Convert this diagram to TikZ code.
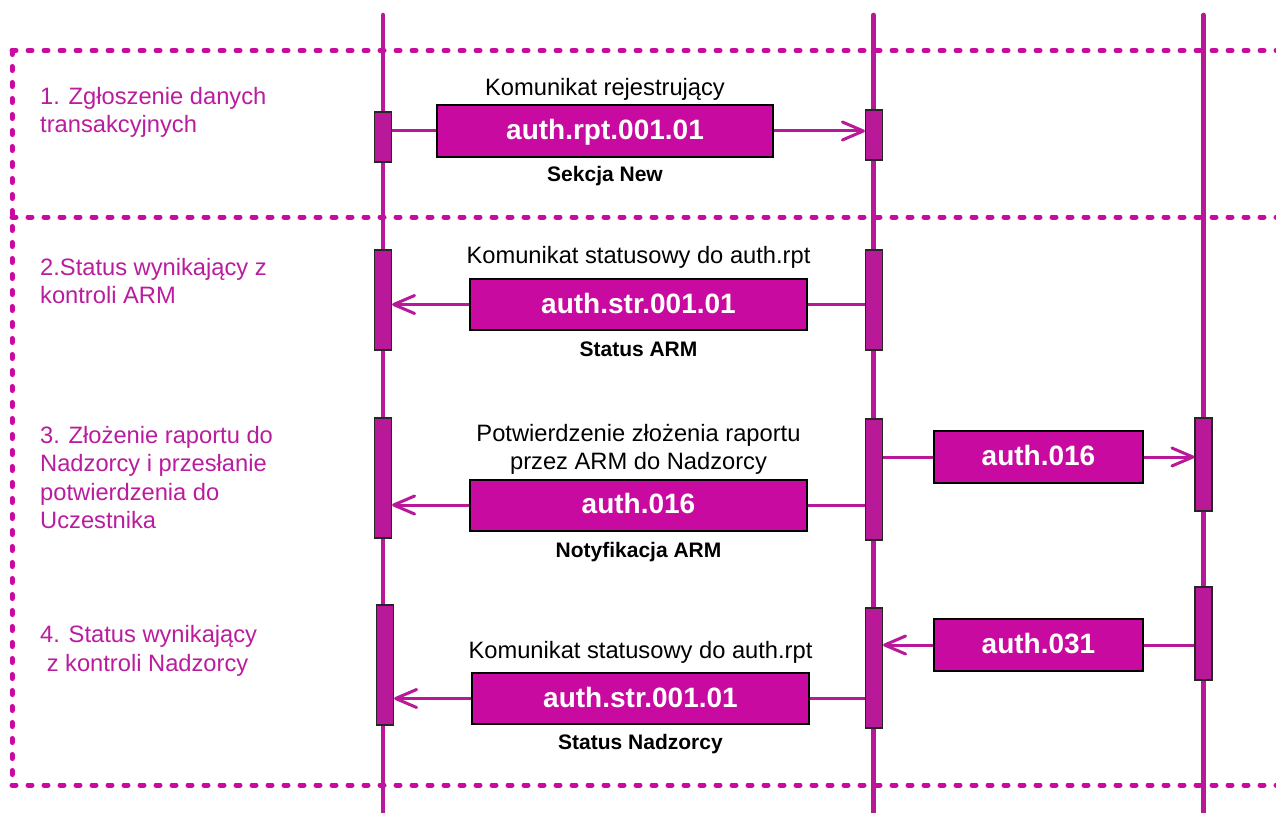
\documentclass[tikz,border=0pt]{standalone}
\usepackage{fontspec}
\setmainfont{Liberation Sans}
\usetikzlibrary{arrows.meta}
\definecolor{lifec}{RGB}{185,24,152}
\definecolor{boxc}{RGB}{200,10,160}
\definecolor{dashc}{RGB}{200,10,160}
\definecolor{labc}{RGB}{186,28,158}
\tikzset{
  frame/.style={draw=dashc, line width=5pt, line cap=round, dash pattern=on 4pt off 12pt},
  lifeline/.style={draw=lifec, line width=4.5pt, line cap=round},
  actbar/.style={draw=black!85, line width=1.2pt, fill=lifec, minimum width=17pt, inner sep=0pt},
  msgbox/.style={draw=black, line width=2pt, fill=boxc, text=white, inner sep=0pt,
     font=\fontsize{28}{32}\selectfont\bfseries, text height=17pt, text depth=0pt},
  msgline/.style={draw=lifec, line width=3pt},
  arr/.style={-{Straight Barb[length=21pt,width=18pt,round]}},
  steplab/.style={text=labc, anchor=base west, inner sep=0pt, font=\fontsize{23.7}{28.5}\selectfont},
  toplab/.style={text=black, anchor=base, inner sep=0pt, font=\fontsize{23.7}{28.5}\selectfont},
  botlab/.style={text=black, anchor=base, inner sep=0pt, font=\fontsize{21}{25}\selectfont\bfseries}
}
\begin{document}
\begin{tikzpicture}[x=1pt,y=-1pt]
\useasboundingbox (0,0) rectangle (1276,813);
% dashed frame
\coordinate (ftl) at (12,50.5);
\coordinate (ftr) at (1280,50.5);
\coordinate (fml) at (12,217);
\coordinate (fmr) at (1280,217);
\coordinate (fbl) at (12,785);
\coordinate (fbr) at (1280,785);
\draw[frame] (ftl) -- (ftr);
\draw[frame] (fml) -- (fmr);
\draw[frame] (fbl) -- (fbr);
\draw[frame] (ftl) -- (fbl);
% lifelines
\coordinate (l1t) at (383,15);   \coordinate (l1b) at (383,820);
\coordinate (l2t) at (873.5,15); \coordinate (l2b) at (873.5,820);
\coordinate (l3t) at (1203.5,15);\coordinate (l3b) at (1203.5,820);
\draw[lifeline] (l1t) -- (l1b);
\draw[lifeline] (l2t) -- (l2b);
\draw[lifeline] (l3t) -- (l3b);
% activation bars
\node[actbar, minimum height=50pt] (b1l) at (383,137) {};
\node[actbar, minimum height=50pt] (b1r) at (874,135) {};
\node[actbar, minimum height=100pt] (b2l) at (383,300) {};
\node[actbar, minimum height=100pt] (b2r) at (874,300) {};
\node[actbar, minimum height=120pt] (b3l) at (383,478) {};
\node[actbar, minimum height=121pt] (b3r) at (874,479.5) {};
\node[actbar, minimum height=93pt] (b3x) at (1203.5,464.5) {};
\node[actbar, minimum height=120pt] (b4l) at (385,665) {};
\node[actbar, minimum height=120pt] (b4r) at (874,668) {};
\node[actbar, minimum height=93pt] (b4x) at (1203.5,633.5) {};
% message boxes
\node[msgbox, minimum width=336pt, minimum height=52pt] (m1) at (605,131) {auth.rpt.001.01};
\node[msgbox, minimum width=337pt, minimum height=51pt] (m2) at (638.5,304.5) {auth.str.001.01};
\node[msgbox, minimum width=337pt, minimum height=51pt] (m3) at (638.5,505) {auth.016};
\node[msgbox, minimum width=209pt, minimum height=52pt] (m3x) at (1038.5,457) {auth.016};
\node[msgbox, minimum width=209pt, minimum height=52pt] (m4x) at (1038.5,645) {auth.031};
\node[msgbox, minimum width=337pt, minimum height=51pt] (m4) at (640.5,698.5) {auth.str.001.01};
% connectors
\draw[msgline] (m1 -| b1l.east) -- (m1.west);
\draw[msgline,arr] (m1.east) -- (m1 -| b1r.west);
\draw[msgline] (m2 -| b2r.west) -- (m2.east);
\draw[msgline,arr] (m2.west) -- (m2 -| b2l.east);
\draw[msgline] (m3 -| b3r.west) -- (m3.east);
\draw[msgline,arr] (m3.west) -- (m3 -| b3l.east);
\draw[msgline] (m3x -| b3r.east) -- (m3x.west);
\draw[msgline,arr] (m3x.east) -- (m3x -| b3x.west);
\draw[msgline] (m4x -| b4x.west) -- (m4x.east);
\draw[msgline,arr] (m4x.west) -- (m4x -| b4r.east);
\draw[msgline] (m4 -| b4r.west) -- (m4.east);
\draw[msgline,arr] (m4.west) -- (m4 -| b4l.east);
% labels above / below
\node[toplab] (a1) at (605,96) {Komunikat rejestrujący};
\node[botlab] (c1) at (605,182) {Sekcja New};
\node[toplab] (a2) at (638.5,263) {Komunikat statusowy do auth.rpt};
\node[botlab] (c2) at (638.5,356) {Status ARM};
\node[toplab] (a3a) at (638.5,441) {Potwierdzenie złożenia raportu};
\node[toplab] (a3b) at (638.5,469) {przez ARM do Nadzorcy};
\node[botlab] (c3) at (638.5,557) {Notyfikacja ARM};
\node[toplab] (a4) at (640.5,658) {Komunikat statusowy do auth.rpt};
\node[botlab] (c4) at (640.5,749) {Status Nadzorcy};
% step labels
\node[steplab] (s1a) at (40,105) {1. Zgłoszenie danych};
\node[steplab] (s1b) at (40,133) {transakcyjnych};
\node[steplab] (s2a) at (40,275) {2.Status wynikający z};
\node[steplab] (s2b) at (40,303) {kontroli ARM};
\node[steplab] (s3a) at (40,443) {3. Złożenie raportu do};
\node[steplab] (s3b) at (40,471.5) {Nadzorcy i przesłanie};
\node[steplab] (s3c) at (40,500) {potwierdzenia do};
\node[steplab] (s3d) at (40,528) {Uczestnika};
\node[steplab] (s4a) at (40,642) {4. Status wynikający};
\node[steplab] (s4b) at (40,671) {\ z kontroli Nadzorcy};
\end{tikzpicture}
\end{document}
